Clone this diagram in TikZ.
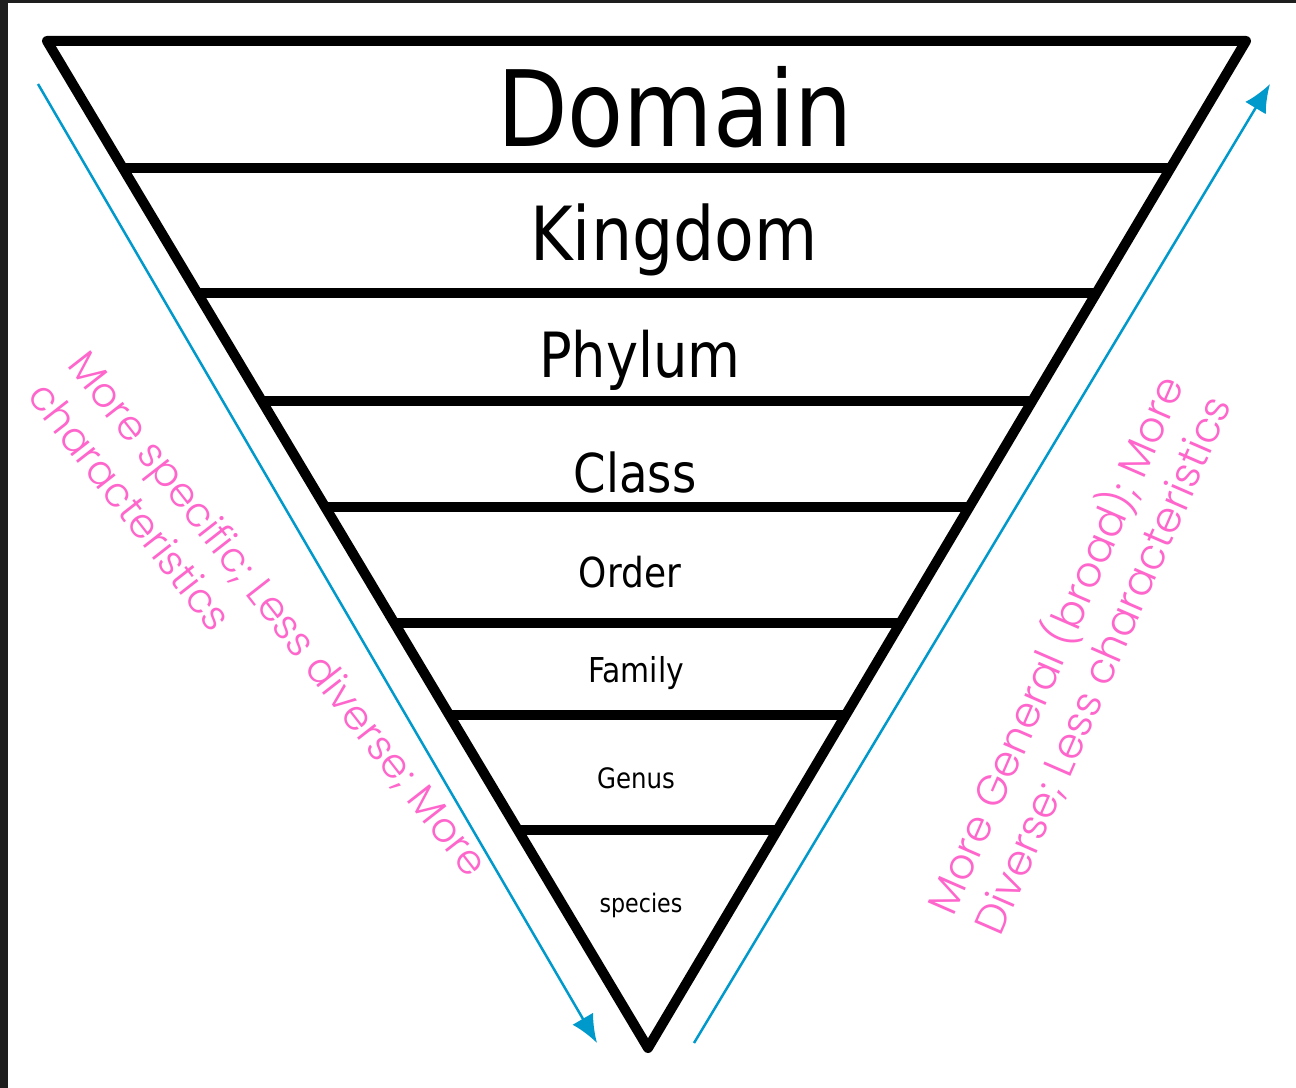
\documentclass[tikz,border=0pt]{standalone}
\usepackage{fontspec}
\usetikzlibrary{arrows.meta,calc}

\newfontfamily\rankfont{DejaVu Sans}[FakeStretch=0.87]
\newfontfamily\notefont{Poppins Light}

\definecolor{notepink}{RGB}{255,102,204}
\definecolor{arrowblue}{RGB}{0,153,204}
\definecolor{framegray}{RGB}{30,30,30}

\begin{document}
\begin{tikzpicture}[
    x=0.02cm, y=-0.02cm,
    rim/.style={line width=0.2cm, line join=round},
    rank/.style={anchor=base, inner sep=0pt, font=\rankfont\fontsize{#1}{#1}\selectfont},
    trend/.style={-{Latex[length=0.56cm, width=0.48cm]}, draw=arrowblue, line width=0.05cm},
    note/.style={anchor=north west, inner sep=0pt, align=left, text=notepink, font=\notefont\fontsize{#1}{29}\selectfont}
]
    \useasboundingbox (0,0) rectangle (1296,1088);
    \fill[framegray] (0,0) rectangle (8,1088);
    \fill[framegray] (0,0) rectangle (1296,3);

    \coordinate (tl) at (47,41);
    \coordinate (tr) at (1246,41);
    \coordinate (apex) at (648,1048);

    \draw[rim] (tl) -- (tr) -- (apex) -- cycle;
    \foreach \y in {168,293,401,507,623,715,830}
        \draw[rim] ($(tl)!{(\y-41)/1007}!(apex)$) -- ($(tr)!{(\y-41)/1007}!(apex)$);

    \node[rank=60] (domain) at (675,147) {Domain};
    \node[rank=42.5] (kingdom) at (674,260) {Kingdom};
    \node[rank=35.5] (phylum) at (640,377) {Phylum};
    \node[rank=30.5] (class) at (635,492) {Class};
    \node[rank=23.5] (order) at (630,587) {Order};
    \node[rank=19.5] (family) at (636,682) {Family};
    \node[rank=16] (genus) at (636,788) {Genus};
    \node[rank=14.5] (species) at (641,912) {species};

    \coordinate (down start) at (38,84);
    \coordinate (down end) at (597,1043);
    \coordinate (up start) at (694,1043);
    \coordinate (up end) at (1270,84);
    \draw[trend] (down start) -- (down end);
    \draw[trend] (up start) -- (up end);

    \node[note=23.3, rotate=-52] (specific) at (91,346) {More specific; Less diverse; More\\characteristics};
    \node[note=24, rotate=66.5] (general) at (917,902) {More General (broad); More\\Diverse; Less characteristics};
\end{tikzpicture}
\end{document}
